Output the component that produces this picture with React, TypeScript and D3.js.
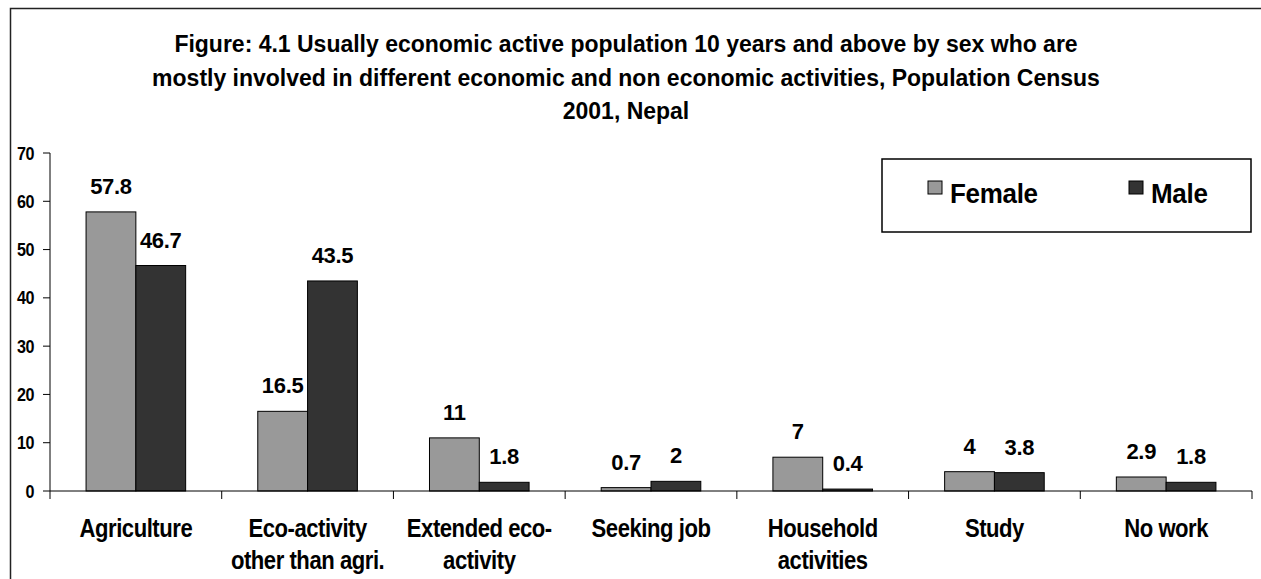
import { scaleBand, scaleLinear } from 'd3'

const categories = [
    ['Agriculture'],
    ['Eco-activity', 'other than agri.'],
    ['Extended eco-', 'activity'],
    ['Seeking job'],
    ['Household', 'activities'],
    ['Study'],
    ['No work']
]
const female = [57.8, 16.5, 11, 0.7, 7, 4, 2.9]
const male = [46.7, 43.5, 1.8, 2, 0.4, 3.8, 1.8]
const yTicks = [0, 10, 20, 30, 40, 50, 60, 70]
const seriesNames = ['Female', 'Male']
const colors = ['#999999', '#333333']
const titleLines = [
    'Figure: 4.1 Usually economic active population 10 years and above by sex who are',
    'mostly involved in different economic and non economic activities, Population Census',
    '2001, Nepal'
]

const W = 1261
const H = 579
const font = '"Liberation Sans", Arial, sans-serif'

export default function App() {
    const x = scaleBand<number>()
        .domain(categories.map((_, i) => i))
        .range([50, 1252])
        .paddingInner(0.42)
        .paddingOuter(0.21)
    const y = scaleLinear().domain([0, 70]).range([491, 153])
    const step = x.step()
    const bw = x.bandwidth() / 2
    const series = [female, male]

    return (
        <div style={{ position: 'absolute', left: 0, top: 0 }}>
            <svg width={W} height={H} style={{ display: 'block', fontFamily: font }}>
                <rect x={0} y={0} width={W} height={H} fill="#fff" />
                <rect x={10.5} y={8.5} width={W + 20} height={H + 20} fill="none" stroke="#222" strokeWidth={1.5} />

                {titleLines.map((t, i) => (
                    <text key={i} transform={`translate(626,${52 + i * 33.5}) scale(1,1.06)`} textAnchor="middle" fontSize={23} fontWeight="bold">
                        {t}
                    </text>
                ))}

                {/* y axis */}
                <line x1={50} x2={50} y1={y(70)} y2={499} stroke="#000" strokeWidth={1} />
                {yTicks.map(t => (
                    <g key={t}>
                        <line x1={43} x2={50} y1={y(t)} y2={y(t)} stroke="#000" />
                        <text transform={`translate(34,${y(t) + 6.5}) scale(0.85,1)`} textAnchor="end" fontSize={19} fontWeight="bold" letterSpacing={-0.5}>
                            {t}
                        </text>
                    </g>
                ))}

                {/* bars */}
                {series.map((vals, s) =>
                    vals.map((v, i) => {
                        const bx = (x(i) as number) + s * bw
                        return (
                            <g key={`${s}-${i}`}>
                                <rect x={bx} y={y(v)} width={bw} height={y(0) - y(v)}
                                    fill={colors[s]} stroke="#000" strokeWidth={1} />
                                <text x={bx + bw / 2} y={y(v) - 18} textAnchor="middle" fontSize={22} fontWeight="bold" letterSpacing={-0.3}>
                                    {v}
                                </text>
                            </g>
                        )
                    })
                )}

                {/* x axis */}
                <line x1={50} x2={1252} y1={y(0)} y2={y(0)} stroke="#000" strokeWidth={1} />
                {categories.map((_, i) => (
                    <line key={i} x1={50 + (i + 1) * step} x2={50 + (i + 1) * step} y1={y(0)} y2={499} stroke="#000" />
                ))}
                {categories.map((lines, i) => {
                    const cx = (x(i) as number) + x.bandwidth() / 2
                    return lines.map((l, j) => (
                        <text key={`${i}-${j}`} transform={`translate(${cx},${537 + j * 32}) scale(0.92,1.05)`}
                            textAnchor="middle" fontSize={24} fontWeight="bold" letterSpacing={-0.5}>
                            {l}
                        </text>
                    ))
                })}

                {/* legend */}
                <rect x={882} y={159} width={369} height={73} fill="#fff" stroke="#000" strokeWidth={1.5} />
                {seriesNames.map((n, i) => {
                    const lx = i === 0 ? 928 : 1129
                    return (
                        <g key={n}>
                            <rect x={lx} y={181} width={14} height={13} fill={colors[i]} stroke="#000" strokeWidth={1} />
                            <text transform={`translate(${lx + 22},203) scale(1,1.05)`} fontSize={26} fontWeight="bold" letterSpacing={-0.3}>
                                {n}
                            </text>
                        </g>
                    )
                })}
            </svg>
        </div>
    )
}
